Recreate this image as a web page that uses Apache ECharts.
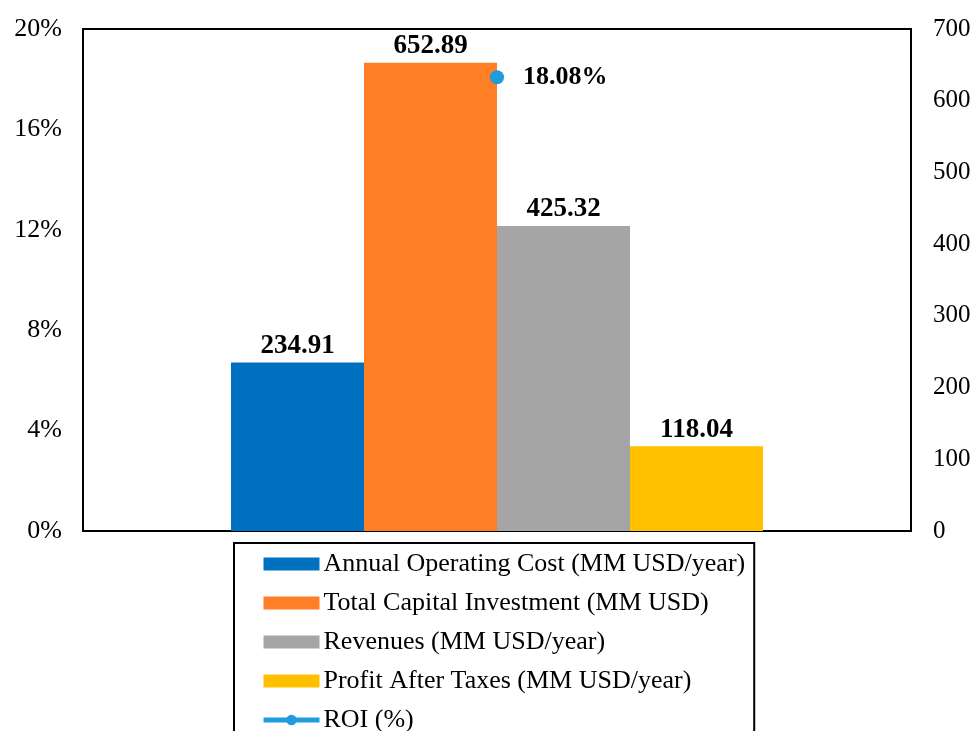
<!DOCTYPE html>
<html>
<head>
    <meta charset="utf-8">
    <title>ECharts</title>
    <script src="https://cdn.jsdelivr.net/npm/echarts@6/dist/echarts.min.js"></script>
    <style>
        html, body { margin: 0; padding: 0; background: #fff; }
    </style>
</head>
<body>
    <div id="main" style="width: 976px;height:731px;"></div>
    <script type="text/javascript">
        var categories = [''];
        var barNames = [
            'Annual Operating Cost (MM USD/year)',
            'Total Capital Investment (MM USD)',
            'Revenues (MM USD/year)',
            'Profit After Taxes (MM USD/year)'
        ];
        var barValues = [234.91, 652.89, 425.32, 118.04];
        var barColors = ['#0070C0', '#FF7F27', '#A5A5A5', '#FFC000'];
        var roiName = 'ROI (%)';
        var roiValues = [18.08];

        var myChart = echarts.init(document.getElementById('main'));
        var font = '"Liberation Serif", "Times New Roman", serif';

        var series = barNames.map(function (name, i) {
            return {
                name: name,
                type: 'bar',
                yAxisIndex: 1,
                barWidth: 133,
                barGap: '0%',
                itemStyle: { color: barColors[i] },
                label: {
                    show: true,
                    position: 'top',
                    distance: 3,
                    fontFamily: font,
                    fontSize: 27,
                    fontWeight: 'bold',
                    color: '#000',
                    formatter: function (p) { return p.value.toFixed(2); }
                },
                data: [barValues[i]]
            };
        });
        series.push({
            name: roiName,
            type: 'line',
            yAxisIndex: 0,
            symbol: 'circle',
            symbolSize: 14,
            itemStyle: { color: '#1F9BDE' },
            lineStyle: { color: '#1F9BDE', width: 5 },
            label: {
                show: true,
                position: 'right',
                distance: 19,
                fontFamily: font,
                fontSize: 26,
                fontWeight: 'bold',
                color: '#000',
                formatter: function (p) { return p.value.toFixed(2) + '%'; }
            },
            data: roiValues
        });

        var legendData = barNames.map(function (n) {
            return { name: n, icon: 'rect' };
        });
        legendData.push({ name: roiName, lineStyle: { width: 5 } });

        var option = {
            animation: false,
            grid: {
                left: 83, right: 65, top: 29, bottom: 200,
                show: true, borderColor: '#000', borderWidth: 2
            },
            legend: {
                orient: 'vertical',
                left: 234,
                top: 543,
                height: 300,
                padding: [8, 9, 30, 27],
                itemWidth: 56,
                itemHeight: 13,
                itemGap: 13,
                borderColor: '#000',
                borderWidth: 2,
                textStyle: { fontFamily: font, fontSize: 26, lineHeight: 25, color: '#000', padding: [0, 0, 0, -1] },
                data: legendData
            },
            xAxis: {
                type: 'category',
                data: categories,
                axisLine: { show: false },
                axisTick: { show: false },
                axisLabel: { show: false }
            },
            yAxis: [{
                type: 'value',
                min: 0, max: 20, interval: 4,
                axisLine: { show: false },
                axisTick: { show: false },
                splitLine: { show: false },
                axisLabel: {
                    formatter: '{value}%', margin: 21,
                    fontFamily: font, fontSize: 26, color: '#000'
                }
            }, {
                type: 'value',
                min: 0, max: 700, interval: 100,
                axisLine: { show: false },
                axisTick: { show: false },
                splitLine: { show: false },
                axisLabel: {
                    margin: 22,
                    fontFamily: font, fontSize: 25, color: '#000'
                }
            }],
            series: series
        };
        myChart.setOption(option);
    </script>
</body>
</html>
